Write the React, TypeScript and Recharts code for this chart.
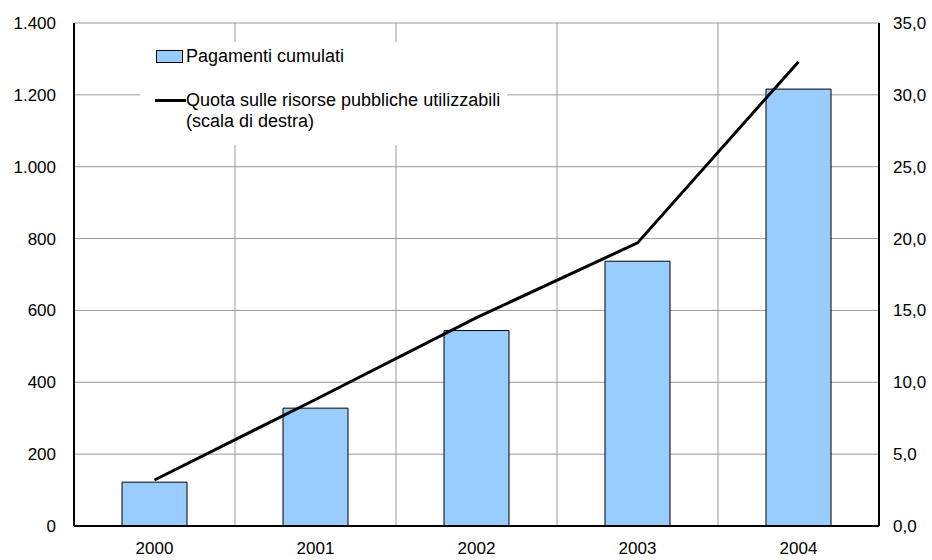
import React from 'react';
import { ComposedChart, Bar, Line, XAxis, YAxis, CartesianGrid, Legend } from 'recharts';

const years = ['2000', '2001', '2002', '2003', '2004'];
const pagamenti = [122, 328, 544, 737, 1216];
const quota = [3.2, 8.8, 14.5, 19.7, 32.3];
const leftTicks = [0, 200, 400, 600, 800, 1000, 1200, 1400];
const rightTicks = [0, 5, 10, 15, 20, 25, 30, 35];
const seriesNames = ['Pagamenti cumulati', 'Quota sulle risorse pubbliche utilizzabili', '(scala di destra)'];

const data = years.map((y, i) => ({ year: y, pag: pagamenti[i], quota: quota[i] }));

const fmtLeft = (v: number) => v.toLocaleString('de-DE');
const fmtRight = (v: number) => v.toFixed(1).replace('.', ',');

const FONT = '"Liberation Sans", Arial, sans-serif';
const tickStyle = { fontSize: 17, fill: '#000', fontFamily: FONT };

const LegendContent = () => (
  <div style={{ position: 'relative', width: 367, height: 103, background: '#fff', fontFamily: FONT, fontSize: 18, color: '#000' }}>
    <div style={{ position: 'absolute', left: 16, top: 8, width: 25, height: 11, background: '#99CCFF', border: '1px solid #000' }} />
    <div style={{ position: 'absolute', left: 46, top: 4, lineHeight: '20px', whiteSpace: 'nowrap' }}>{seriesNames[0]}</div>
    <div style={{ position: 'absolute', left: 15, top: 57, width: 31, height: 3, background: '#000' }} />
    <div style={{ position: 'absolute', left: 46, top: 48, lineHeight: '21px', whiteSpace: 'nowrap' }}>
      {seriesNames[1]}
      <br />
      {seriesNames[2]}
    </div>
  </div>
);

export default function App() {
  return (
    <div style={{ position: 'absolute', left: 0, top: 0, width: 932, height: 560, background: '#fff' }}>
      <ComposedChart width={932} height={560} data={data} margin={{ top: 23, right: 0, left: 0, bottom: 0 }}>
        <CartesianGrid
          yAxisId="left"
          stroke="#999"
          strokeWidth={1}
          verticalCoordinatesGenerator={({ offset }: any) =>
            [1, 2, 3, 4].map((i) => offset.left + (offset.width * i) / years.length)
          }
        />
        <XAxis
          dataKey="year"
          xAxisId="bottom"
          height={34}
          tickLine={false}
          axisLine={{ stroke: '#000', strokeWidth: 2 }}
          tick={tickStyle}
          tickMargin={10}
        />
        <XAxis
          dataKey="year"
          xAxisId="top"
          orientation="top"
          height={0}
          tick={false}
          tickLine={false}
          axisLine={{ stroke: '#000', strokeWidth: 2 }}
        />
        <YAxis
          yAxisId="left"
          width={74}
          domain={[0, 1400]}
          ticks={leftTicks}
          tickFormatter={fmtLeft}
          tickLine={false}
          axisLine={{ stroke: '#000', strokeWidth: 2 }}
          tick={tickStyle}
          tickMargin={12}
          interval={0}
        />
        <YAxis
          yAxisId="right"
          orientation="right"
          width={53}
          domain={[0, 35]}
          ticks={rightTicks}
          tickFormatter={fmtRight}
          tickLine={false}
          axisLine={{ stroke: '#000', strokeWidth: 2 }}
          tick={{ ...tickStyle, textAnchor: 'start' }}
          tickMargin={8}
          interval={0}
        />
        <Legend
          layout="vertical"
          align="center"
          verticalAlign="middle"
          content={<LegendContent />}
          wrapperStyle={{ left: 140, top: 42, width: 367, height: 103 }}
        />
        <Bar
          xAxisId="bottom"
          yAxisId="left"
          dataKey="pag"
          name={seriesNames[0]}
          fill="#99CCFF"
          stroke="#000"
          strokeWidth={1}
          barSize={65}
          isAnimationActive={false}
        />
        <Line
          xAxisId="bottom"
          yAxisId="right"
          dataKey="quota"
          name={seriesNames[1]}
          stroke="#000"
          strokeWidth={3}
          dot={false}
          type="linear"
          isAnimationActive={false}
        />
      </ComposedChart>
    </div>
  );
}
